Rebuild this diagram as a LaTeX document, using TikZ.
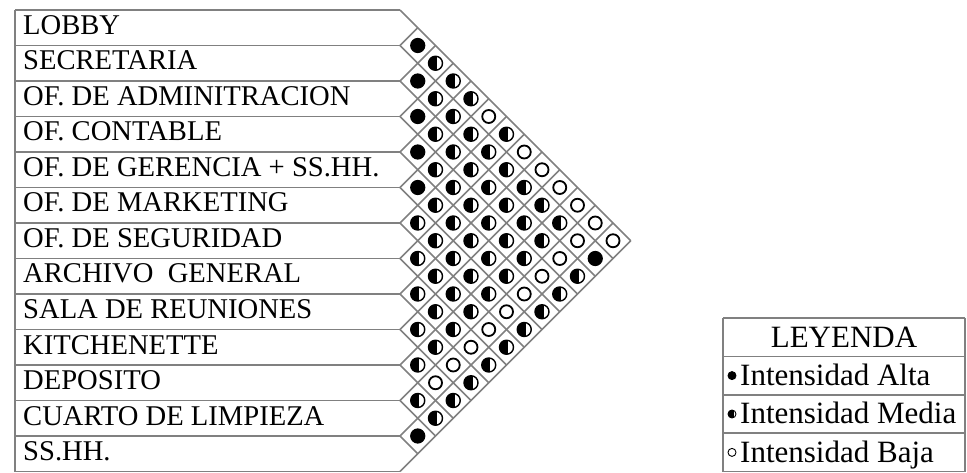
\documentclass[tikz,border=0pt]{standalone}
\usepackage{fontspec}
\setmainfont{Liberation Serif}
\usetikzlibrary{positioning}

\begin{document}
\begin{tikzpicture}[x=1pt,y=-1pt,
  grid/.style={draw=black!50, line width=1.6pt},
  rowlab/.style={anchor=base west, inner sep=0pt, font=\fontsize{28.6}{28.6}\selectfont},
  leglab/.style={rowlab, font=\fontsize{31}{31}\selectfont},
  dotA/.style={circle, draw, fill=black, line width=1.2pt, minimum size=14pt, inner sep=0pt},
  dotM/.style={circle, draw, line width=1.4pt, minimum size=14pt, inner sep=0pt,
    path picture={\fill ([xshift=1.5pt]path picture bounding box.north) rectangle (path picture bounding box.south west);}},
  dotB/.style={circle, draw, line width=1.8pt, minimum size=13pt, inner sep=0pt},
  legdot/.style={minimum size=8pt, line width=0.9pt},
]
\useasboundingbox (0,0) rectangle (967,473);
\def\xl{15}\def\xr{400}\def\yt{10}\def\rh{35.5}
% ---- rows ----
\foreach \k in {0,...,13}{\draw[grid] (\xl,\yt+\k*\rh) -- (\xr,\yt+\k*\rh);}
\draw[grid] (\xl,\yt) -- (\xl,\yt+13*\rh);
\foreach \i/\lab in {0/LOBBY, 1/SECRETARIA, 2/OF. DE ADMINITRACION, 3/OF. CONTABLE,
  4/OF. DE GERENCIA + SS.HH., 5/OF. DE MARKETING, 6/OF. DE SEGURIDAD, 7/ARCHIVO\ \ GENERAL,
  8/SALA DE REUNIONES, 9/KITCHENETTE, 10/DEPOSITO, 11/CUARTO DE LIMPIEZA, 12/SS.HH.}{
  \node[rowlab] (r\i) at (\xl+8,\yt+\i*\rh+24.5) {\lab};
}
% ---- diamond grid ----
\foreach \k in {0,...,12}{\draw[grid] (\xr,\yt+\k*\rh) -- ++({(13-\k)*\rh/2},{(13-\k)*\rh/2});}
\foreach \k in {1,...,13}{\draw[grid] (\xr,\yt+\k*\rh) -- ++({\k*\rh/2},{-\k*\rh/2});}
% ---- relations (A alta, M media, B baja) ----
\foreach \i/\row in {0/{A,M,M,M,B,M,B,B,B,B,B,B}, 1/{A,M,M,M,M,M,M,M,M,B,A},
  2/{A,M,M,M,M,M,M,M,B,M}, 3/{A,M,M,M,M,M,M,B,M}, 4/{A,M,M,M,M,M,B,M},
  5/{M,M,M,M,M,B,M}, 6/{M,M,M,M,B,M}, 7/{M,M,M,B,M}, 8/{M,M,B,M},
  9/{M,B,M}, 10/{M,M}, 11/{A}}{
  \foreach \s [count=\n] in \row {
    \pgfmathtruncatemacro\j{\i+\n}
    \node[dot\s] (c\i-\j) at ({\xr+\n*\rh/2},{\yt+(2*\i+\n+1)*\rh/2}) {};
  }
}
% ---- legend ----
\def\lx{723}\def\lr{965}\def\ly{318}\def\lh{38.4}
\foreach \k in {0,...,4}{\draw[grid] (\lx,\ly+\k*\lh) -- (\lr,\ly+\k*\lh);}
\draw[grid] (\lx,\ly) -- (\lx,\ly+4*\lh);
\draw[grid] (\lr,\ly) -- (\lr,\ly+4*\lh);
\node[leglab, anchor=base] (leyenda) at ({(\lx+\lr)/2},\ly+29) {LEYENDA};
\foreach \k/\s/\lab in {1/A/Intensidad Alta, 2/M/Intensidad Media, 3/B/Intensidad Baja}{
  \node[dot\s, legdot] (l\s) at (\lx+9,\ly+\k*\lh+\lh/2) {};
  \node[leglab] (t\s) at (\lx+17,\ly+\k*\lh+29) {\lab};
}
\end{tikzpicture}
\end{document}
